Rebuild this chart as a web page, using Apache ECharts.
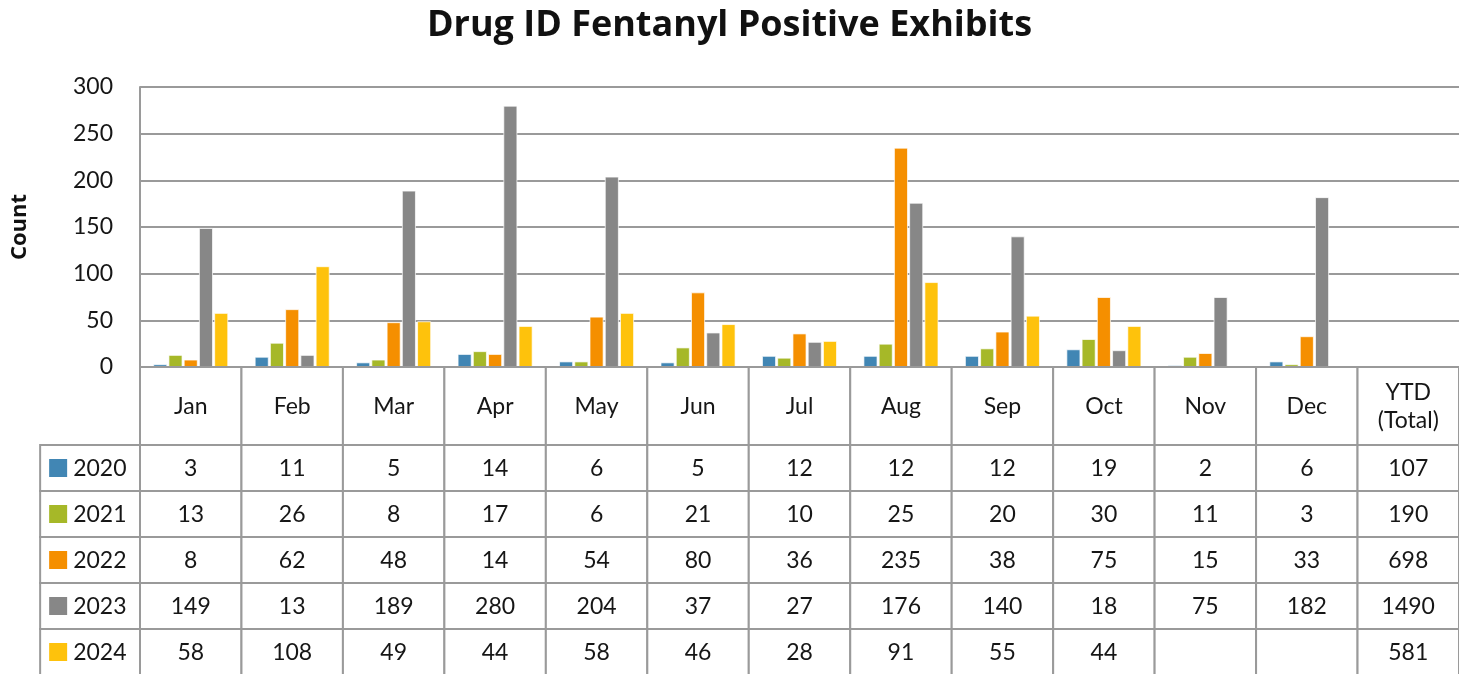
<!DOCTYPE html>
<html>
<head>
<meta charset="utf-8">
<script src="https://cdn.jsdelivr.net/npm/echarts@6/dist/echarts.min.js"></script>
<style>
  html, body { margin: 0; padding: 0; background: #fff; }
  #chart { width: 1459px; height: 674px; }
</style>
</head>
<body>
<div id="chart"></div>
<script>
const months = ['Jan', 'Feb', 'Mar', 'Apr', 'May', 'Jun', 'Jul', 'Aug', 'Sep', 'Oct', 'Nov', 'Dec', 'YTD\n(Total)'];
const years = ['2020', '2021', '2022', '2023', '2024'];
const colors = ['#4186b4', '#a6b828', '#f58f00', '#878787', '#fec20c'];

const v2020 = [3, 11, 5, 14, 6, 5, 12, 12, 12, 19, 2, 6];
const v2021 = [13, 26, 8, 17, 6, 21, 10, 25, 20, 30, 11, 3];
const v2022 = [8, 62, 48, 14, 54, 80, 36, 235, 38, 75, 15, 33];
const v2023 = [149, 13, 189, 280, 204, 37, 27, 176, 140, 18, 75, 182];
const v2024 = [58, 108, 49, 44, 58, 46, 28, 91, 55, 44, null, null];
const ytd = [107, 190, 698, 1490, 581];

const yearValues = [v2020, v2021, v2022, v2023, v2024];

const FONT = 'Lato, "Noto Sans", sans-serif';
const HEAD_FONT = '"Open Sans", "Noto Sans", sans-serif';
const LINE = '#9a9a9a';
const TEXT = '#161616';
const HEAD_H = 78;   // header row height below the axis
const ROW_H = 46;    // year rows

// table cells: header row (row -1), then one row per year; col -1 = legend column
const cells = [];
months.forEach((m, i) => cells.push({ row: -1, col: i, text: m }));
years.forEach((y, r) => {
  cells.push({ row: r, col: -1, text: y, legend: colors[r] });
  yearValues[r].forEach((v, i) => cells.push({ row: r, col: i, text: v == null ? '' : String(v) }));
  cells.push({ row: r, col: 12, text: String(ytd[r]) });
});

const chart = echarts.init(document.getElementById('chart'));

const barSeries = years.map((y, i) => ({
  name: y,
  type: 'bar',
  data: yearValues[i],
  barGap: '8%',
  barCategoryGap: '26%',
  itemStyle: { color: colors[i], borderColor: 'rgba(255,255,255,0.7)', borderWidth: 1 },
  z: 3
}));

const tableSeries = {
  type: 'custom',
  silent: true,
  clip: false,
  z: 5,
  data: cells.map(c => [Math.max(c.col, 0), 0]),
  encode: { x: 0, y: 1 },
  renderItem(params, api) {
    const c = cells[params.dataIndex];
    const band = api.size([1, 0])[0];
    const base = api.coord([Math.max(c.col, 0), 0]);
    let left = base[0] - band / 2;
    let width = band;
    if (c.col < 0) { left -= band - 1.6; width = band - 1.6; }
    const top = c.row < 0 ? base[1] : base[1] + HEAD_H + c.row * ROW_H;
    const h = c.row < 0 ? HEAD_H : ROW_H;
    const children = [{
      type: 'rect',
      shape: { x: left, y: top, width: width, height: h },
      style: { fill: '#fff', stroke: LINE, lineWidth: 2 }
    }];
    if (c.legend) {
      children.push({
        type: 'rect',
        shape: { x: left + 9, y: top + h / 2 - 9, width: 18, height: 18 },
        style: { fill: c.legend }
      });
      children.push({
        type: 'text',
        style: {
          x: left + 33, y: top + h / 2 + 1, text: c.text, fill: TEXT,
          font: '23px ' + FONT, align: 'left', verticalAlign: 'middle'
        }
      });
    } else {
      children.push({
        type: 'text',
        style: {
          x: left + width / 2, y: top + h / 2 + 1, text: c.text, fill: TEXT,
          font: '23px ' + FONT, align: 'center', verticalAlign: 'middle', lineHeight: 28
        }
      });
    }
    return { type: 'group', children: children };
  }
};

chart.setOption({
  backgroundColor: '#fff',
  animation: false,
  title: {
    text: 'Drug ID Fentanyl Positive Exhibits',
    left: 'center',
    top: 3,
    textStyle: { fontFamily: HEAD_FONT, fontSize: 36, fontWeight: 'bold', color: '#111' }
  },
  grid: { left: 140, top: 87, width: 1321, height: 280 },
  xAxis: {
    type: 'category',
    data: months,
    axisLine: { show: true, lineStyle: { color: LINE, width: 2 } },
    axisTick: { show: false },
    axisLabel: { show: false },
    splitLine: { show: false }
  },
  yAxis: {
    type: 'value',
    min: 0,
    max: 300,
    interval: 50,
    name: 'Count',
    nameLocation: 'middle',
    nameRotate: 90,
    nameGap: 109,
    nameTextStyle: { fontFamily: HEAD_FONT, fontSize: 22, fontWeight: 'bold', color: '#111' },
    axisLine: { show: true, lineStyle: { color: LINE, width: 2 } },
    axisTick: { show: false },
    axisLabel: { fontFamily: FONT, fontSize: 23, color: TEXT, margin: 27 },
    splitLine: { lineStyle: { color: LINE, width: 2 } }
  },
  series: barSeries.concat([tableSeries])
});
</script>
</body>
</html>
